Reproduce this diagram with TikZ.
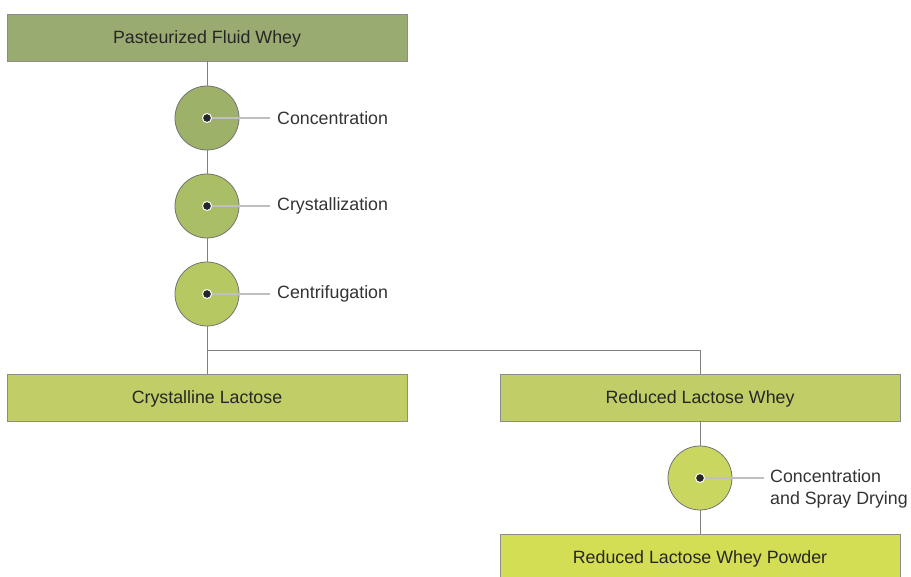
\documentclass[tikz,border=0pt]{standalone}
\usepackage{fontspec}
\setmainfont{Liberation Sans}
\begin{document}
\begin{tikzpicture}[x=1pt,y=-1pt,
  every node/.style={font=\fontsize{17.8}{22}\selectfont},
  box/.style={draw=black!45, line width=0.8pt, minimum width=400pt, minimum height=47pt, inner sep=0pt, text=black!85},
  stage/.style={circle, draw=black!55, line width=0.8pt, minimum size=64pt, inner sep=0pt},
  link/.style={draw=black!50, line width=0.9pt},
  lead/.style={draw=black!25, line width=2pt},
  dot/.style={circle, fill=black!85, draw=white, line width=1pt, minimum size=9pt, inner sep=0pt},
  tag/.style={anchor=west, text=black!80, align=left, inner sep=0pt}]
\definecolor{gA}{HTML}{9AAB72}
\definecolor{gB}{HTML}{9DB168}
\definecolor{gC}{HTML}{A9BE65}
\definecolor{gD}{HTML}{B5C862}
\definecolor{gE}{HTML}{C1CD67}
\definecolor{gF}{HTML}{C9D760}
\definecolor{gG}{HTML}{D4DE55}
\useasboundingbox (0,0) rectangle (911,577);

% boxes
\node[box, fill=gA] (whey) at (207,37.5) {};
\node[box, fill=gE] (lact) at (207,397.5) {};
\node[box, fill=gE] (rlw) at (700,397.5) {};
\node[text=black!85] (wheyt) at (207,39) {Pasteurized Fluid Whey};
\node[text=black!85] (lactt) at (207,399) {Crystalline Lactose};
\node[text=black!85] (rlwt) at (700,399) {Reduced Lactose Whey};
\path[fill=gG, draw=black!45, line width=0.8pt] (500,590) -- (500,534) -- (900,534) -- (900,590);
\node[text=black!85] (pow) at (700,559) {Reduced Lactose Whey Powder};
\coordinate (powtop) at (700,534);

% process stages
\node[stage, fill=gB] (s1) at (207,118) {};
\node[stage, fill=gC] (s2) at (207,206) {};
\node[stage, fill=gD] (s3) at (207,294) {};
\node[stage, fill=gF] (s4) at (700,478) {};

% flow lines
\draw[link] (whey) -- (s1);
\draw[link] (s1) -- (s2);
\draw[link] (s2) -- (s3);
\draw[link] (s3) -- (lact);
\coordinate (split) at (207,350);
\draw[link] (split) -| (rlw);
\draw[link] (rlw) -- (s4);
\draw[link] (s4) -- (powtop);

% stage labels
\foreach \s/\y/\t in {s1/118/Concentration, s2/206/Crystallization, s3/294/Centrifugation}{
  \coordinate (\s e) at (270,\y);
  \draw[lead] (\s.center) -- (\s e);
  \node[dot] at (\s.center) {};
  \node[tag] (\s t) at (277,\y) {\t};
}
\coordinate (s4e) at (764,478);
\draw[lead] (s4.center) -- (s4e);
\node[dot] at (s4.center) {};
\node[tag, anchor=north west] (s4t) at (770,469) {Concentration\\and Spray Drying};
\end{tikzpicture}
\end{document}
